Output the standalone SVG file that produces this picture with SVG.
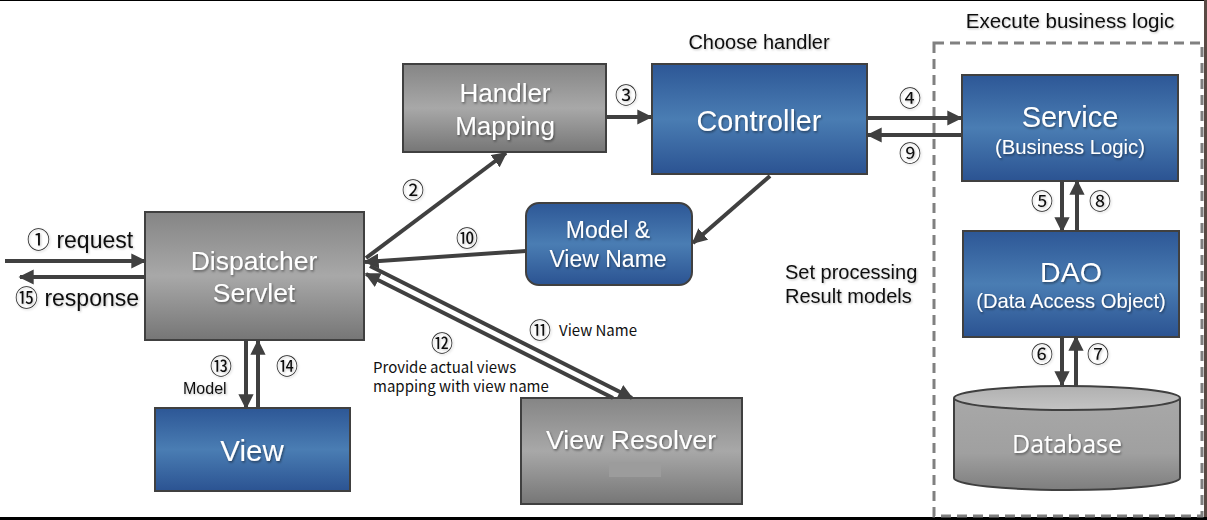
<svg xmlns="http://www.w3.org/2000/svg" width="1207" height="520" viewBox="0 0 1207 520">
<defs>
<linearGradient id="gGray" x1="0" y1="0" x2="0" y2="1">
<stop offset="0" stop-color="#858585"/><stop offset="0.5" stop-color="#a8a8a8"/><stop offset="1" stop-color="#767676"/>
</linearGradient>
<linearGradient id="gBlue" x1="0" y1="0" x2="0" y2="1">
<stop offset="0" stop-color="#2d5796"/><stop offset="0.5" stop-color="#4a7db3"/><stop offset="1" stop-color="#2b5392"/>
</linearGradient>
<linearGradient id="gDb" x1="0" y1="0" x2="0" y2="1">
<stop offset="0" stop-color="#a8a8a8"/><stop offset="0.6" stop-color="#a0a0a0"/><stop offset="1" stop-color="#7e7e7e"/>
</linearGradient>
<linearGradient id="gDbTop" x1="0" y1="0" x2="0" y2="1">
<stop offset="0" stop-color="#b0b0b0"/><stop offset="1" stop-color="#c4c4c4"/>
</linearGradient>
<filter id="sh" x="-10%" y="-20%" width="120%" height="140%">
<feDropShadow dx="1" dy="1.5" stdDeviation="1" flood-color="#000" flood-opacity="0.45"/>
</filter>
<filter id="sh2" x="-10%" y="-20%" width="120%" height="140%">
<feDropShadow dx="1" dy="1" stdDeviation="0.8" flood-color="#000" flood-opacity="0.25"/>
</filter>
<marker id="ah" viewBox="0 0 10 10" refX="9" refY="5" markerWidth="3.8" markerHeight="3.8" orient="auto" markerUnits="strokeWidth">
<path d="M0,0 L10,5 L0,10 Z" fill="#404040"/>
</marker>
</defs>
<style>
.gray{fill:url(#gGray);stroke:#404040;stroke-width:2}
.blue{fill:url(#gBlue);stroke:#404040;stroke-width:2}
.nt{font-family:Arial,'Liberation Sans',sans-serif;fill:#fff;text-anchor:middle;filter:url(#sh)}
.lbl{font-family:Arial,'Liberation Sans','Noto Sans CJK KR',sans-serif;fill:#111;filter:url(#sh2)}
.sm{font-family:'Noto Sans CJK KR','Open Sans',sans-serif;fill:#111;font-size:15px}
.num{font-family:'Noto Sans CJK KR','DejaVu Sans',sans-serif;fill:#111;font-size:22px;text-anchor:middle;filter:url(#sh2)}
.c{stroke:#404040;stroke-width:4;fill:none;marker-end:url(#ah)}
</style>
<rect x="0" y="0" width="1207" height="520" fill="#fff"/>
<line x1="0" y1="0.5" x2="1207" y2="0.5" stroke="#000" stroke-width="1"/>
<line x1="1205.5" y1="0" x2="1205.5" y2="520" stroke="#5a4a44" stroke-width="3"/>
<line x1="0" y1="518.5" x2="1207" y2="518.5" stroke="#000" stroke-width="3"/>

<g id="business-area">
<rect x="934" y="43" width="268" height="473" fill="none" stroke="#808080" stroke-width="3" stroke-dasharray="10,6"/>
<text class="lbl" x="1070" y="28" font-size="20.5" text-anchor="middle">Execute business logic</text>
</g>

<g id="texts">
<text class="lbl" x="759" y="49" font-size="20" text-anchor="middle">Choose handler</text>
<text class="lbl" x="785" y="279" font-size="20">Set processing</text>
<text class="lbl" x="785" y="303" font-size="20">Result models</text>
</g>

<g id="dispatcher">
<rect class="gray" x="145" y="212" width="219" height="128"/>
<text class="nt" x="254" y="270" font-size="26.5">Dispatcher</text>
<text class="nt" x="254" y="302" font-size="26.5">Servlet</text>
</g>
<g id="handler-mapping">
<rect class="gray" x="403" y="64" width="203" height="88"/>
<text class="nt" x="505" y="102" font-size="26">Handler</text>
<text class="nt" x="505" y="135" font-size="26">Mapping</text>
</g>
<g id="controller">
<rect class="blue" x="652" y="64" width="215" height="110"/>
<text class="nt" x="759" y="131" font-size="28.8">Controller</text>
</g>
<g id="service">
<rect class="blue" x="962" y="75" width="216" height="106"/>
<text class="nt" x="1070" y="127" font-size="29">Service</text>
<text class="nt" x="1070" y="154" font-size="20.3">(Business Logic)</text>
</g>
<g id="dao">
<rect class="blue" x="963" y="231" width="216" height="106"/>
<text class="nt" x="1071" y="282" font-size="28.5">DAO</text>
<text class="nt" x="1071" y="308" font-size="20.2">(Data Access Object)</text>
</g>
<g id="database">
<path d="M954,398 L954,478 A113,12 0 0 0 1180,478 L1180,398" fill="url(#gDb)" stroke="#404040" stroke-width="2"/>
<ellipse cx="1067" cy="398" rx="113" ry="12" fill="url(#gDbTop)" stroke="#404040" stroke-width="2"/>
<text class="nt" x="1067" y="453" font-size="25" style="font-family:'Open Sans',sans-serif">Database</text>
</g>
<g id="model-view-name">
<rect class="blue" x="526" y="203" width="166" height="82" rx="13"/>
<text class="nt" x="608" y="238" font-size="23">Model &amp;</text>
<text class="nt" x="608" y="267" font-size="23">View Name</text>
</g>
<g id="view-resolver">
<rect class="gray" x="521" y="398" width="221" height="106"/>
<rect x="609" y="462" width="52" height="15" fill="#9c9c9c"/>
<text class="nt" x="631" y="449" font-size="26.7">View Resolver</text>
</g>
<g id="view">
<rect class="blue" x="155" y="408" width="195" height="83"/>
<text class="nt" x="252" y="461" font-size="29.5">View</text>
</g>

<g id="connectors">
<line class="c" x1="5" y1="261" x2="145" y2="261"/>
<line class="c" x1="145" y1="277" x2="20" y2="277"/>
<line class="c" x1="366" y1="258" x2="506" y2="153"/>
<line class="c" x1="606" y1="117" x2="651" y2="117"/>
<line class="c" x1="867" y1="118" x2="961" y2="118"/>
<line class="c" x1="962" y1="135" x2="868" y2="135"/>
<line class="c" x1="770" y1="176" x2="693" y2="243"/>
<line class="c" x1="526" y1="251" x2="365" y2="262"/>
<line class="c" x1="370" y1="266" x2="632" y2="398"/>
<line class="c" x1="613" y1="398" x2="366" y2="274"/>
<line class="c" x1="246" y1="341" x2="246" y2="408"/>
<line class="c" x1="258" y1="408" x2="258" y2="341"/>
<line class="c" x1="1062" y1="181" x2="1062" y2="231"/>
<line class="c" x1="1077" y1="231" x2="1077" y2="181"/>
<line class="c" x1="1062" y1="337" x2="1062" y2="385"/>
<line class="c" x1="1076" y1="386" x2="1076" y2="337"/>
</g>

<g id="labels">
<text class="lbl" x="27" y="248" font-size="23">① request</text>
<text class="lbl" x="15" y="306" font-size="23">⑮ response</text>
<text class="num" x="413" y="198">②</text>
<text class="num" x="626" y="103">③</text>
<text class="num" x="910" y="106">④</text>
<text class="num" x="910" y="161">⑨</text>
<text class="num" x="1042" y="209">⑤</text>
<text class="num" x="1100" y="209">⑧</text>
<text class="num" x="1042" y="362">⑥</text>
<text class="num" x="1098" y="362">⑦</text>
<text class="num" x="467" y="246">⑩</text>
<text class="num" x="540" y="338">⑪</text>
<text class="sm" x="559" y="336">View Name</text>
<text class="num" x="442" y="351">⑫</text>
<text class="sm" x="373" y="373">Provide actual views</text>
<text class="sm" x="373" y="392">mapping with view name</text>
<text class="num" x="221" y="374">⑬</text>
<text class="lbl" x="183" y="394" font-size="16">Model</text>
<text class="num" x="287" y="374">⑭</text>
</g>
</svg>
